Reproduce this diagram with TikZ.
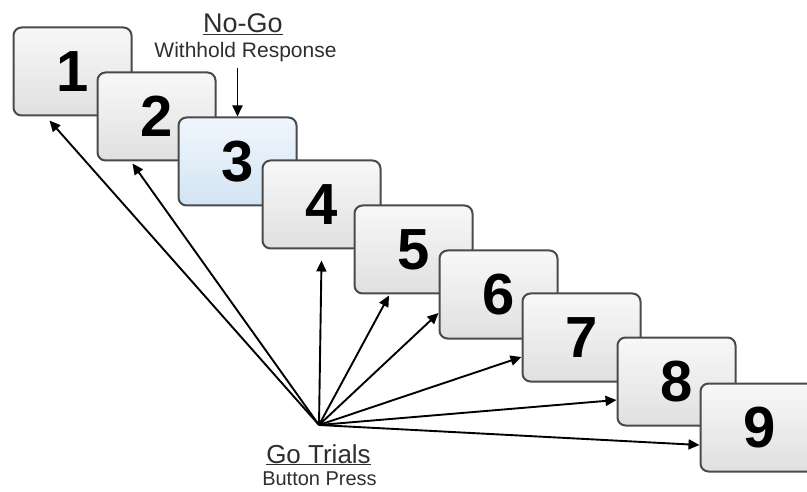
\documentclass[tikz,border=0pt]{standalone}
\usepackage{fontspec}
\setmainfont{Liberation Sans}
\usetikzlibrary{arrows.meta}
\definecolor{cardline}{HTML}{4A4A4A}
\definecolor{cardtop}{HTML}{F8F8F8}
\definecolor{cardbot}{HTML}{E0E0E0}
\definecolor{bluetop}{HTML}{F0F6FC}
\definecolor{bluebot}{HTML}{D3E4F3}
\definecolor{labeltext}{HTML}{2E2E2E}
\begin{document}
\begin{tikzpicture}[x = 1pt, y = -1pt,
	card/.style = {draw=cardline, line width=2pt, rounded corners=8pt, minimum width=118pt, minimum height=88pt, inner sep=0pt, top color=cardtop, bottom color=cardbot, font=\fontsize{58}{58}\selectfont\bfseries},
	nogocard/.style = {card, top color=bluetop, bottom color=bluebot},
	goarrow/.style = {line width=1.9pt, -{Triangle[length=11pt,width=10pt]}},
	caption/.style = {anchor=base, inner sep=0pt, text=labeltext},]
		\clip (0,0) rectangle (807,492);
		\node[card] (B1) at (72.5,71.5) {1};
		\node[card] (B2) at (156.5,116.5) {2};
		\node[nogocard] (B3) at (237.5,161.5) {3};
		\node[card] (B4) at (321.5,204.5) {4};
		\node[card] (B5) at (413.5,249.5) {5};
		\node[card] (B6) at (498.5,294.5) {6};
		\node[card] (B7) at (581.5,337.5) {7};
		\node[card] (B8) at (676.5,381.5) {8};
		\node[card] (B9) at (759.5,427.5) {9};
		
		\node[caption, font=\fontsize{27}{27}\selectfont] (NoGo) at (243,33) {\underline{No-Go}};
		\node[caption, font=\fontsize{21}{21}\selectfont] (Withhold) at (245.5,58) {Withhold Response};
		\node[caption, font=\fontsize{26}{26}\selectfont] (GoTrials) at (318.5,463) {\underline{Go Trials}};
		\node[caption, font=\fontsize{20}{20}\selectfont] (Press) at (319.5,485) {Button Press};
		\coordinate (Hub) at (319,425);
		
		\draw[goarrow] ([yshift=-5pt]Withhold.south -| B3.north) -- (B3.north);
		\draw[goarrow] (Hub) -- ([xshift=37pt,yshift=-4pt]B1.south west);
		\draw[goarrow] (Hub) -- ([xshift=36pt,yshift=-2pt]B2.south west);
		\draw[goarrow] (Hub) -- ([yshift=-11pt]B4.south);
		\draw[goarrow] (Hub) -- ([xshift=-24.5pt,yshift=-1pt]B5.south);
		\draw[goarrow] (Hub) -- ([yshift=-18.5pt]B6.west);
		\draw[goarrow] (Hub) -- ([yshift=-19.5pt]B7.west);
		\draw[goarrow] (Hub) -- ([yshift=-18.5pt]B8.west);
		\draw[goarrow] (Hub) -- ([yshift=-17.5pt]B9.west);
	\end{tikzpicture}
\end{document}
